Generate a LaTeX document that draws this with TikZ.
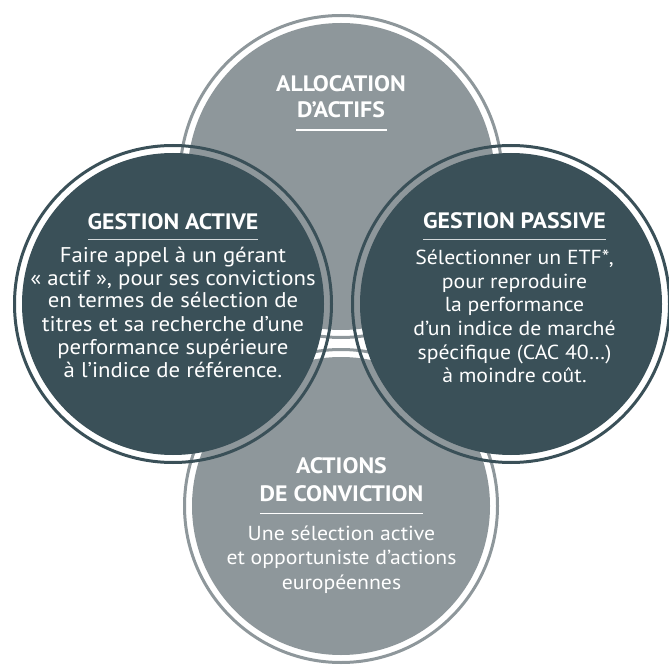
\documentclass[tikz,border=0pt]{standalone}
\usepackage{fontspec}
\setmainfont{PT Sans}[FakeStretch=1.07]
\definecolor{darkc}{HTML}{3A5058}
\definecolor{greyc}{HTML}{8E979B}
\definecolor{rulec}{HTML}{D3D8DA}
\tikzset{
  body/.style={text=white, anchor=base, inner sep=0pt, font=\fontsize{20.3}{23}\selectfont},
  bodyl/.style={body, font=\fontsize{21.3}{23}\selectfont},
  title/.style={text=white, anchor=base, inner sep=0pt, font=\fontsize{22.3}{26}\selectfont\bfseries},
  rulew/.style={line width=1.4pt},
}
\begin{document}
\begin{tikzpicture}[x=1pt,y=-1pt]
\useasboundingbox (0,0) rectangle (669,668);
\coordinate (ct) at (341,176.5);
\coordinate (cb) at (341,506);
\coordinate (cl) at (173,304);
\coordinate (cr) at (511,304);
% top grey circle
\fill[white] (ct) circle (160);
\draw[greyc, line width=3pt] (ct) circle (161);
\fill[greyc] (ct) circle (153.5);
% bottom grey circle
\fill[white] (cb) circle (155);
\draw[greyc, line width=3pt] (cb) circle (156.5);
\fill[greyc] (cb) circle (149);
% dark circles
\foreach \c in {cl,cr}{
  \draw[darkc, line width=3pt] (\c) circle (158.5);
  \fill[darkc] (\c) circle (151);
}
% top text
\node[title] (t1) at (341,91.5) {ALLOCATION};
\node[title] (t2) at (341,117.5) {D’ACTIFS};
\coordinate (tu1) at (296,130); \coordinate (tu2) at (387,130);
\draw[white, rulew] (tu1) -- (tu2);
% left text
\node[title] (l0) at (173,230) {GESTION ACTIVE};
\coordinate (lu1) at (88,239.5); \coordinate (lu2) at (258,239.5);
\draw[rulec, rulew] (lu1) -- (lu2);
\node[bodyl] (l1) at (173,262) {Faire appel à un gérant};
\node[bodyl] (l2) at (173,285) {« actif », pour ses convictions};
\node[bodyl] (l3) at (173,308) {en termes de sélection de};
\node[bodyl] (l4) at (173,331) {titres et sa recherche d’une};
\node[bodyl] (l5) at (173,354) {performance supérieure};
\node[bodyl] (l6) at (173,377) {à l’indice de référence.};
% right text
\node[title] (r0) at (514.5,229) {GESTION PASSIVE};
\coordinate (ru1) at (423,239.5); \coordinate (ru2) at (606,239.5);
\draw[rulec, rulew] (ru1) -- (ru2);
\node[body] (r1) at (514.5,265) {Sélectionner un ETF*,};
\node[body] (r2) at (514.5,288.5) {pour reproduire};
\node[body] (r3) at (514.5,312) {la performance};
\node[body] (r4) at (514.5,335.5) {d’un indice de marché};
\node[body] (r5) at (514.5,359) {spécifique (CAC 40…)};
\node[body] (r6) at (514.5,382.5) {à moindre coût.};
% bottom text
\node[title] (b1) at (341.5,473.5) {ACTIONS};
\node[title] (b2) at (341.5,501.5) {DE CONVICTION};
\coordinate (bu1) at (260,513.5); \coordinate (bu2) at (423,513.5);
\draw[white, rulew] (bu1) -- (bu2);
\node[body] (b3) at (341.5,540) {Une sélection active};
\node[body] (b4) at (341.5,564.5) {et opportuniste d’actions};
\node[body] (b5) at (341.5,589) {européennes};
\end{tikzpicture}
\end{document}
